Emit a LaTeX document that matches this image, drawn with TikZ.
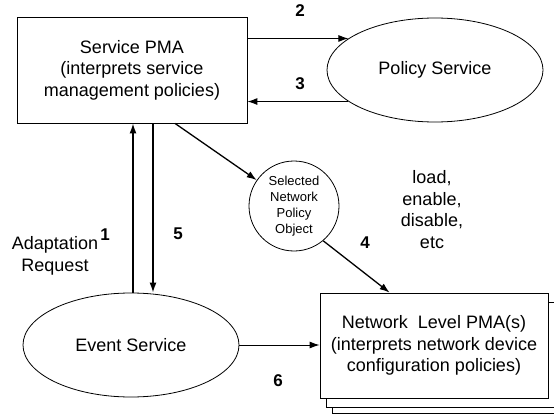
\documentclass[tikz,border=0pt]{standalone}
\usepackage{fontspec}
\setmainfont{Liberation Sans}
\usetikzlibrary{arrows.meta}
\usetikzlibrary{shapes.geometric, math}

\begin{document}
\begin{tikzpicture}[x=1pt,y=-1pt,
  every node/.style={font=\fontsize{18}{21.5}\selectfont},
  box/.style={draw, line width=0.8pt, fill=white, minimum width=228pt, minimum height=105pt, inner sep=0pt, align=center},
  oval/.style={draw, ellipse, line width=0.8pt, minimum width=216pt, minimum height=104pt, inner sep=0pt},
  arr/.style={-{Latex[length=10pt,width=7pt]}, line width=1pt},
  num/.style={font=\fontsize{17}{20}\selectfont\bfseries}]
\tikzmath{
\W=554;
\H=417;
\dx=6;
\dy=9;
}
\useasboundingbox (0,0) rectangle (\W,\H);

\node[box, minimum width=230pt, minimum height=106pt] (pma) at (132,70) {Service PMA\\(interprets service\\management policies)};
\node[oval] (ps) at (435,70) {Policy Service};
\node[oval] (ev) at (131,345) {Event Service};
\node[draw, circle, line width=0.8pt, minimum size=90pt, inner sep=0pt, align=center, font=\fontsize{13}{16}\selectfont] (sel) at (294,206) {Selected\\Network\\Policy\\Object};

\node[box] (net3) at (434+2*\dx,345.5+15) {};
\node[box] (net2) at (434+\dx,345.5+\dy) {};
\node[box] (net) at (434,345.5) {Network\ \ Level PMA(s)\\(interprets network device\\configuration policies)};

\draw[arr] (ps.160 -| pma.east) -- (ps.160);
\draw[arr] (ps.200) -- (ps.200 -| pma.east);
\node[num] (n2) at (300,11) {2};
\node[num] (n3) at (300,84) {3};

\draw[arr, line width=1.5pt] ([xshift=2pt]ev.north) -- ([xshift=1pt]pma.south);
\draw[arr, line width=1.5pt] ([xshift=21pt]pma.south) -- ([xshift=22pt]ev.north);
\node[num] (n1) at (105,235) {1};
\node[num] (n5) at (178,234) {5};
\node[align=center] (req) at (55,256) {Adaptation\\Request};

\draw[arr, line width=1.3pt] ([xshift=43pt]pma.south) -- (sel);
\draw[arr, line width=1.3pt] (sel.-50) -- ([xshift=70pt]net.north west);
\node[num] (n4) at (365,243) {4};
\node[align=center] (ops) at (432,209.5) {load,\\enable,\\disable,\\etc};

\draw[arr] (ev.east) -- (ev.east -| net.west);
\node[num] (n6) at (278,381) {6};
\end{tikzpicture}
\end{document}
